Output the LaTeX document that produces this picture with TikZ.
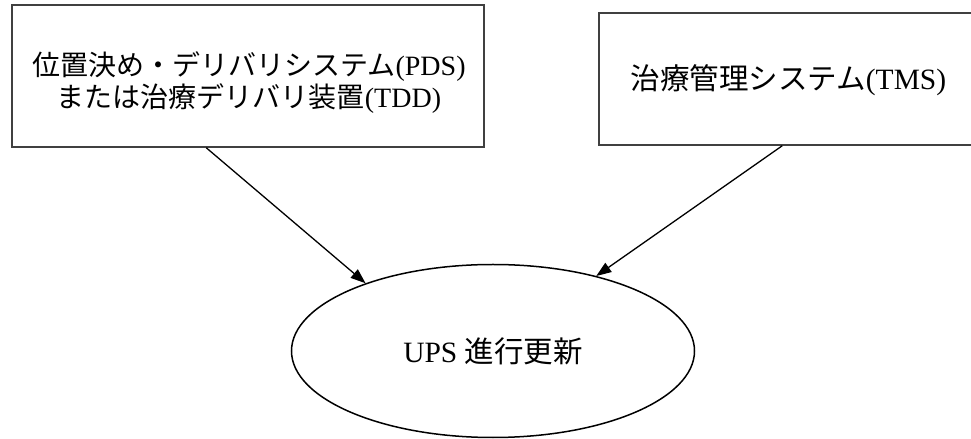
\documentclass[tikz,border=0pt]{standalone}
\usepackage{fontspec}
\setmainfont{Liberation Serif}
\newfontfamily\jp{Noto Sans CJK JP}
\usetikzlibrary{arrows.meta,shapes.geometric,calc}
\definecolor{boxgray}{HTML}{404040}
\begin{document}
\begin{tikzpicture}[x=1bp,y=-1bp,
  boxst/.style={draw=boxgray, line width=1.5bp, inner sep=0pt},
  txt/.style={inner sep=0pt, align=center, font=\fontsize{28bp}{32bp}\selectfont},
  arr/.style={line width=1.3bp, -{Triangle[length=15bp,width=11bp]}}]
\useasboundingbox (0,0) rectangle (971,439);
% left box
\node[boxst, minimum width=472bp, minimum height=142bp] (pds) at (248,76) {};
\node[txt] (pdstext) at (249,83) {{\jp 位置決め・デリバリシステム}(PDS)\\{\jp または治療デリバリ装置}(TDD)};
% right box
\node[boxst, minimum width=391bp, minimum height=132bp] (tms) at (794.5,79) {};
\node[txt, font=\fontsize{29.5bp}{34bp}\selectfont] (tmstext) at (788.5,80) {{\jp 治療管理システム}(TMS)};
% ellipse
\node[draw, ellipse, line width=1.5bp, minimum width=403bp, minimum height=173bp, inner sep=0pt,
      font=\fontsize{29.5bp}{34bp}\selectfont] (ups) at (493,351) {UPS {\jp 進行更新}};
% connectors
\coordinate (s1) at ($(pds.south west)+(195,0)$);
\coordinate (s2) at ($(tms.south west)+(184,0)$);
\draw[arr] (s1) -- (ups.152);
\draw[arr] (s2) -- (ups.36.5);
\end{tikzpicture}
\end{document}
